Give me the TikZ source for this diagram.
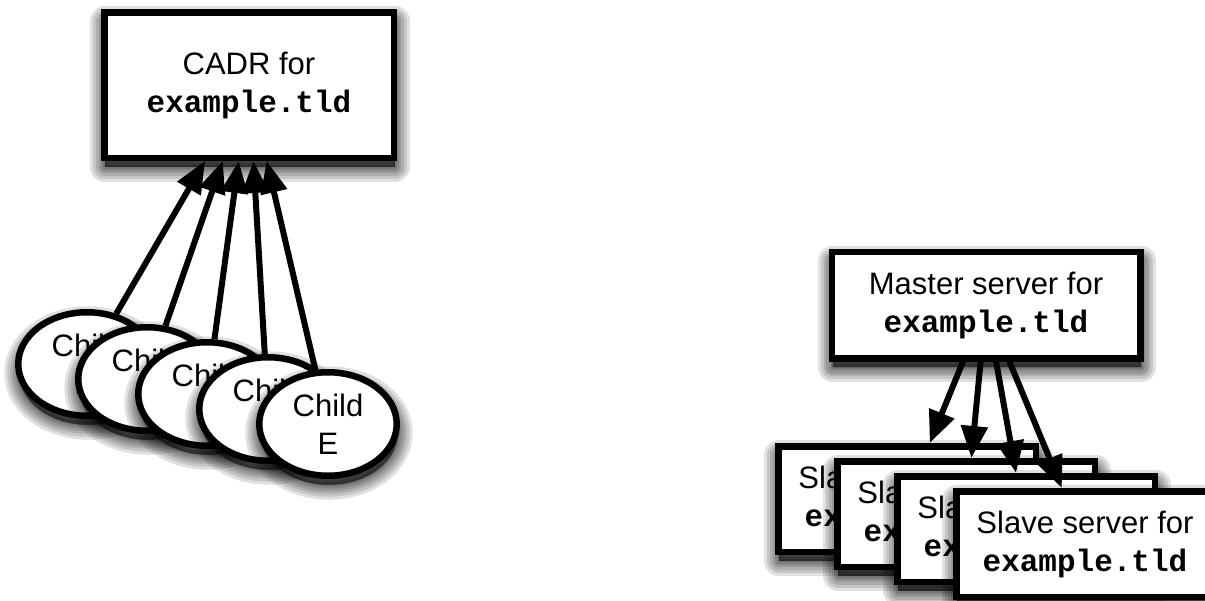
\documentclass[tikz,border=0pt]{standalone}
\usepackage{fontspec}
\setmainfont{Liberation Sans}
\setmonofont{Liberation Mono}
\usetikzlibrary{arrows.meta,shapes.geometric,shadows}
\newcommand\tldtext{{\ttfamily\bfseries example.tld}}
\tikzset{
  shlayer/.style={general shadow={shadow xshift=1pt, shadow yshift=-9pt,
      fill=black, draw=black, line join=round, line width=#1, opacity=0.12}},
  shad/.style={shlayer=30pt, shlayer=24pt, shlayer=18pt, shlayer=13pt, shlayer=8pt, shlayer=4pt, shlayer=1pt},
  boxnode/.style={draw, line width=6.5pt, fill=white, align=center, inner sep=0pt,
    font=\fontsize{31}{38}\selectfont, shad},
  childnode/.style={ellipse, draw, line width=6.5pt, fill=white, align=center, inner sep=0pt,
    minimum width=137.5pt, minimum height=103.5pt, font=\fontsize{31}{38}\selectfont, shad},
  slavenode/.style={boxnode, minimum width=257.5pt, minimum height=105.5pt},
  conn/.style={line width=6pt, -{Triangle[length=32pt,width=26pt]}},
}
\begin{document}
\begin{tikzpicture}[x=1pt,y=-1pt]
  \clip (0,0) rectangle (1205,600);
  \useasboundingbox (0,0) rectangle (1205,600);
  % left figure
  \node[boxnode, minimum width=289.5pt, minimum height=145.5pt] (cadr) at (249,85) {CADR for\\\tldtext};
  \node[childnode] (ca) at (87,364) {Child\\A};
  \node[childnode] (cb) at (147,379) {Child\\B};
  \node[childnode] (cc) at (207,394) {Child\\C};
  \node[childnode] (cd) at (268,409) {Child\\D};
  \node[childnode] (ce) at (328,424) {Child\\E};
  \draw[conn] (ca) -- (cadr);
  \draw[conn] (cb) -- (cadr);
  \draw[conn] (cc) -- (cadr);
  \draw[conn] (cd) -- (cadr);
  \draw[conn] (ce) -- (cadr);
  % right figure
  \node[boxnode, minimum width=308.5pt, minimum height=106.5pt] (master) at (986,305) {Master server for\\\tldtext};
  \node[slavenode] (s1) at (907,499) {Slave server for\\\tldtext};
  \node[slavenode] (s2) at (966,514) {Slave server for\\\tldtext};
  \node[slavenode] (s3) at (1026,529) {Slave server for\\\tldtext};
  \node[slavenode] (s4) at (1085,544) {Slave server for\\\tldtext};
  \draw[conn] (master) -- (s1);
  \draw[conn] (master) -- (s2);
  \draw[conn] (master) -- (s3);
  \draw[conn] (master) -- (s4);
\end{tikzpicture}
\end{document}
